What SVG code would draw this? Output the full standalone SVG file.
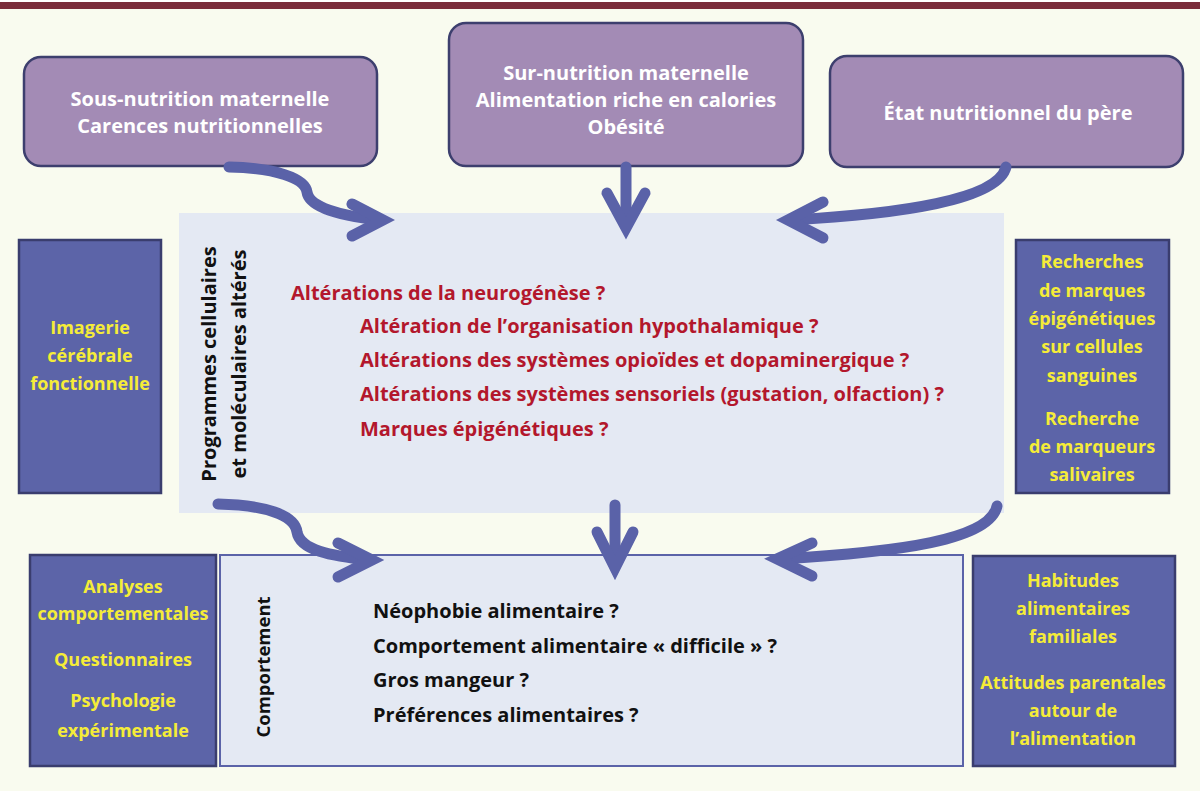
<svg xmlns="http://www.w3.org/2000/svg" width="1200" height="791" viewBox="0 0 1200 791">
<defs>
<style>
.bg{fill:#f9fbef}
.top{fill:#a38bb5;stroke:#3d3f6e;stroke-width:2.5}
.dark{fill:#5c64a8;stroke:#3a3d6e;stroke-width:2.5}
.panel{fill:#e4e9f3}
.panel2{fill:#e4e9f3;stroke:#5b63a8;stroke-width:2}
text{font-family:"Open Sans","Liberation Sans",sans-serif;font-weight:bold}
.w{fill:#ffffff;font-size:20px;text-anchor:middle}
.y{fill:#f5ec38;font-size:18px;text-anchor:middle}
.r{fill:#b3172c;font-size:20px}
.k{fill:#111111;font-size:20px}
.kv{fill:#111111;font-size:20px;text-anchor:middle}
.arr{fill:none;stroke:#5a62a8;stroke-width:11;stroke-linecap:round;stroke-linejoin:miter}
</style>
</defs>
<rect class="bg" x="0" y="0" width="1200" height="791"/>
<rect x="0" y="0" width="1200" height="2" fill="#ffffff"/>
<rect x="0" y="2" width="1200" height="7" fill="#7a2d3a"/>

<g id="panel-programmes">
<rect class="panel" x="179" y="213" width="825" height="300"/>
<text class="kv" transform="translate(216,364) rotate(-90)">Programmes cellulaires</text>
<text class="kv" transform="translate(246,364) rotate(-90)">et moléculaires altérés</text>
<text class="r" x="291" y="300">Altérations de la neurogénèse ?</text>
<text class="r" x="360" y="333">Altération de l’organisation hypothalamique ?</text>
<text class="r" x="360" y="367">Altérations des systèmes opioïdes et dopaminergique ?</text>
<text class="r" x="360" y="401">Altérations des systèmes sensoriels (gustation, olfaction) ?</text>
<text class="r" x="360" y="436">Marques épigénétiques ?</text>
</g>

<g id="panel-comportement">
<rect class="panel2" x="220" y="555" width="743" height="211"/>
<text class="kv" style="font-size:18.5px" transform="translate(270,667) rotate(-90)">Comportement</text>
<text class="k" x="373" y="618">Néophobie alimentaire ?</text>
<text class="k" x="373" y="653">Comportement alimentaire « difficile » ?</text>
<text class="k" x="373" y="687">Gros mangeur ?</text>
<text class="k" x="373" y="722">Préférences alimentaires ?</text>
</g>

<g id="sous-nutrition">
<rect class="top" x="24" y="57" width="353" height="109" rx="17"/>
<text class="w" x="200" y="106">Sous-nutrition maternelle</text>
<text class="w" x="200" y="133">Carences nutritionnelles</text>
</g>

<g id="sur-nutrition">
<rect class="top" x="449" y="23" width="354" height="143" rx="17"/>
<text class="w" x="626" y="80">Sur-nutrition maternelle</text>
<text class="w" x="626" y="107">Alimentation riche en calories</text>
<text class="w" x="626" y="134">Obésité</text>
</g>

<g id="etat-pere">
<rect class="top" x="830" y="56" width="353" height="111" rx="17"/>
<text class="w" x="1008" y="120">État nutritionnel du père</text>
</g>

<g id="imagerie">
<rect class="dark" x="19" y="240" width="142" height="253"/>
<text class="y" x="90" y="334">Imagerie</text>
<text class="y" x="90" y="362">cérébrale</text>
<text class="y" x="90" y="390">fonctionnelle</text>
</g>

<g id="recherches">
<rect class="dark" x="1016" y="240" width="153" height="253"/>
<text class="y" x="1092" y="268">Recherches</text>
<text class="y" x="1092" y="297">de marques</text>
<text class="y" x="1092" y="325">épigénétiques</text>
<text class="y" x="1092" y="353">sur cellules</text>
<text class="y" x="1092" y="382">sanguines</text>
<text class="y" x="1092" y="425">Recherche</text>
<text class="y" x="1092" y="453">de marqueurs</text>
<text class="y" x="1092" y="481">salivaires</text>
</g>

<g id="analyses">
<rect class="dark" x="30" y="555" width="186" height="211"/>
<text class="y" x="123" y="593">Analyses</text>
<text class="y" x="123" y="620">comportementales</text>
<text class="y" x="123" y="666">Questionnaires</text>
<text class="y" x="123" y="707">Psychologie</text>
<text class="y" x="123" y="737">expérimentale</text>
</g>

<g id="habitudes">
<rect class="dark" x="973" y="556" width="202" height="210"/>
<text class="y" x="1073" y="587">Habitudes</text>
<text class="y" x="1073" y="615">alimentaires</text>
<text class="y" x="1073" y="643">familiales</text>
<text class="y" x="1073" y="689">Attitudes parentales</text>
<text class="y" x="1073" y="717">autour de</text>
<text class="y" x="1073" y="745">l’alimentation</text>
</g>

<g id="connectors">
<path class="arr" d="M229,167 C275,168 305,178 307,192 C309,207 340,216 380,220"/>
<path class="arr" d="M352,204 L383,220 L352,236"/>
<path class="arr" d="M626,167 L626,226"/>
<path class="arr" d="M607,193 L626,228 L645,193"/>
<path class="arr" d="M1006,167 C998,200 900,214 790,220"/>
<path class="arr" d="M823,202 L788,220 L823,238"/>
<path class="arr" d="M218,504 C265,505 295,515 297,532 C300,550 330,556 370,560"/>
<path class="arr" d="M338,543 L372,560 L338,577"/>
<path class="arr" d="M615,505 L615,566"/>
<path class="arr" d="M597,532 L615,568 L633,532"/>
<path class="arr" d="M997,506 C990,540 900,552 779,559"/>
<path class="arr" d="M812,543 L777,559 L812,576"/>
</g>
</svg>
